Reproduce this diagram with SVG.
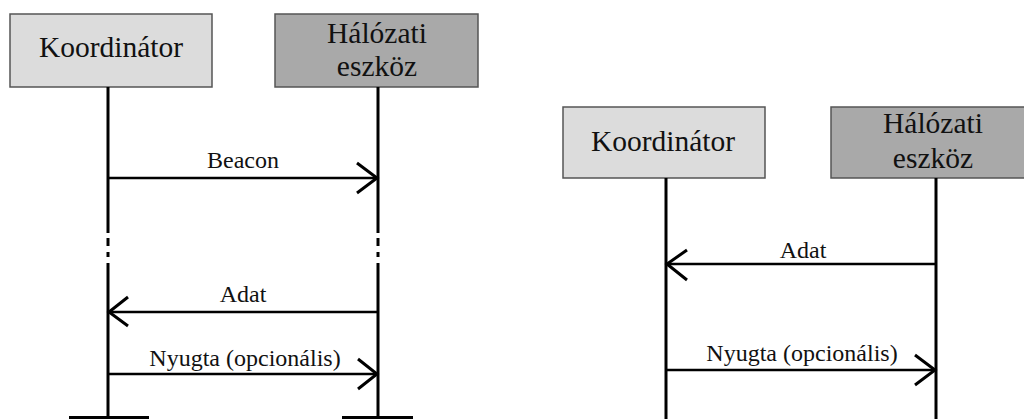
<svg xmlns="http://www.w3.org/2000/svg" width="1024" height="419" viewBox="0 0 1024 419">
  <defs>
    <style>
      .box { stroke: #555555; stroke-width: 1.5; }
      .light { fill: #dcdcdc; }
      .dark { fill: #a9a9a9; }
      .name { font-family: "Liberation Serif", "Times New Roman", serif; font-size: 29.5px; fill: #111111; text-anchor: middle; }
      .msg { font-family: "Liberation Serif", "Times New Roman", serif; font-size: 24px; fill: #111111; text-anchor: middle; }
      .life { stroke: #000000; stroke-width: 3; fill: none; }
      .arrow { stroke: #000000; stroke-width: 2.5; fill: none; }
      .head { stroke: #000000; stroke-width: 3; fill: none; stroke-linecap: butt; stroke-linejoin: miter; }
    </style>
  </defs>
  <rect width="1024" height="419" fill="#ffffff"/>

  <!-- Left sequence: beacon-enabled transfer -->
  <g id="coord-left">
    <rect class="box light" x="10" y="14" width="202" height="73"/>
    <text class="name" x="111" y="57">Koordinátor</text>
  </g>
  <g id="device-left">
    <rect class="box dark" x="275" y="14" width="203" height="73"/>
    <text class="name" x="377" y="43">Hálózati</text>
    <text class="name" x="377" y="76">eszköz</text>
  </g>

  <!-- Right sequence: transfer without beacon -->
  <g id="coord-right">
    <rect class="box light" x="563" y="107" width="202" height="71"/>
    <text class="name" x="663" y="151">Koordinátor</text>
  </g>
  <g id="device-right">
    <rect class="box dark" x="831" y="107" width="200" height="71"/>
    <text class="name" x="933" y="133">Hálózati</text>
    <text class="name" x="933" y="168">eszköz</text>
  </g>

  <g id="connectors">
    <!-- lifelines, left -->
    <path class="life" d="M108 87 V233 M108 238 V246 M108 252 V257 M108 263 V419"/>
    <path class="life" d="M378 87 V233 M378 238 V246 M378 252 V257 M378 263 V419"/>
    <path class="life" d="M69 417.5 H149 M342 417.5 H413"/>
    <!-- lifelines, right -->
    <path class="life" d="M666 178 V419"/>
    <path class="life" d="M936 178 V419"/>

    <!-- Beacon -->
    <path class="arrow" d="M108 178 H376"/>
    <path class="head" d="M357 163 L377 178 L357 193"/>
    <text class="msg" x="243" y="168">Beacon</text>

    <!-- Adat (left) -->
    <path class="arrow" d="M110 312 H378"/>
    <path class="head" d="M128 297 L109 312 L128 326"/>
    <text class="msg" x="243" y="302">Adat</text>

    <!-- Nyugta (left) -->
    <path class="arrow" d="M108 374 H376"/>
    <path class="head" d="M358 359 L377 374 L358 389"/>
    <text class="msg" x="245" y="366">Nyugta (opcionális)</text>

    <!-- Adat (right) -->
    <path class="arrow" d="M668 264 H936"/>
    <path class="head" d="M687 250 L667 264 L687 280"/>
    <text class="msg" x="803" y="258">Adat</text>

    <!-- Nyugta (right) -->
    <path class="arrow" d="M666 370 H934"/>
    <path class="head" d="M915 355 L935 370 L915 385"/>
    <text class="msg" x="802" y="361">Nyugta (opcionális)</text>
  </g>
</svg>
